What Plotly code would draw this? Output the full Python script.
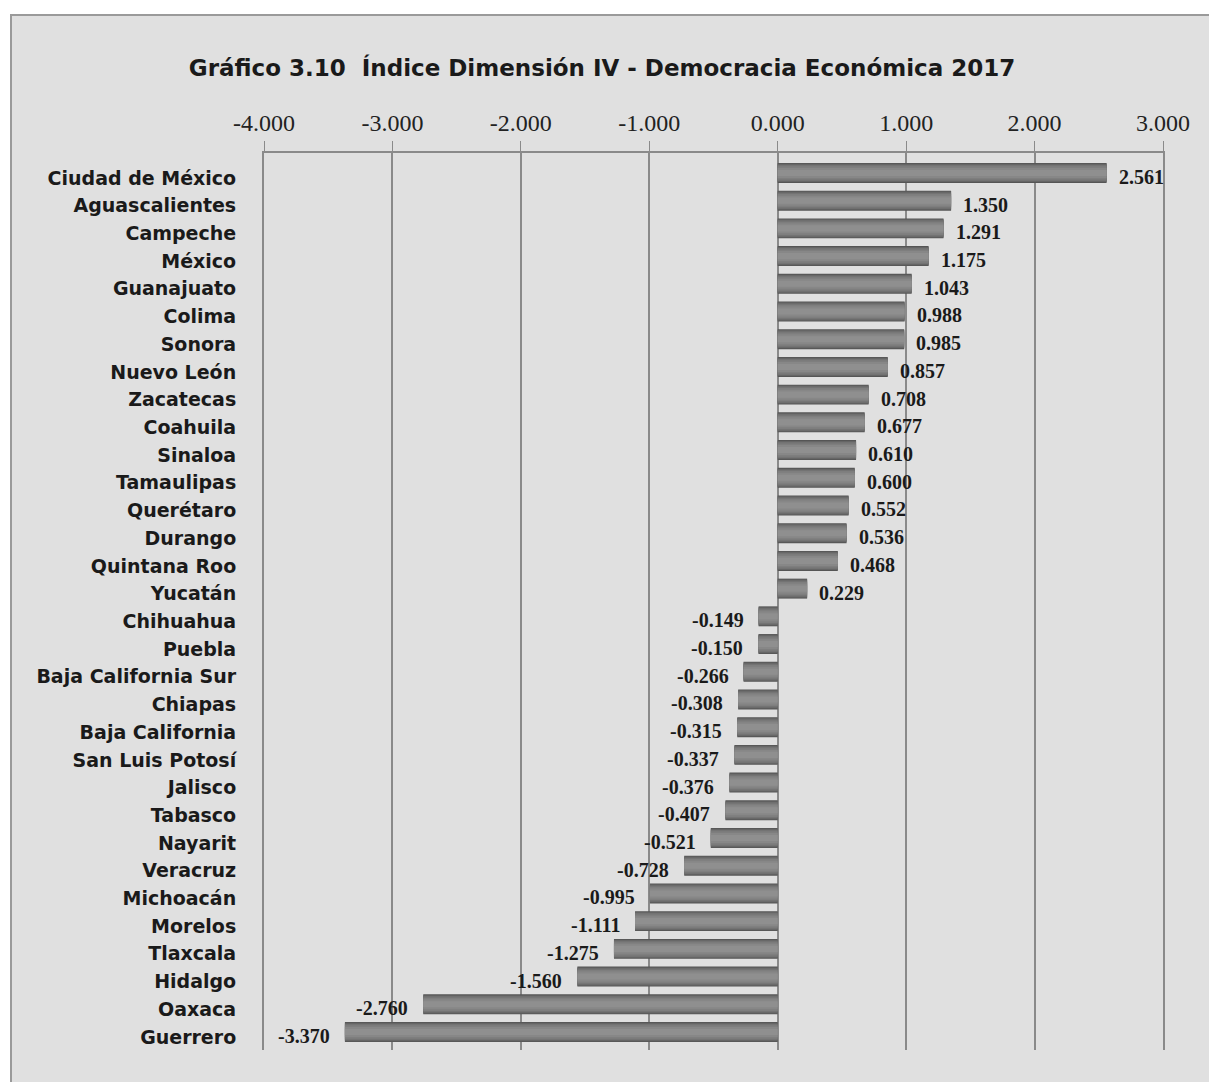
import plotly.graph_objects as go

states = ["Ciudad de México", "Aguascalientes", "Campeche", "México", "Guanajuato",
          "Colima", "Sonora", "Nuevo León", "Zacatecas", "Coahuila", "Sinaloa",
          "Tamaulipas", "Querétaro", "Durango", "Quintana Roo", "Yucatán",
          "Chihuahua", "Puebla", "Baja California Sur", "Chiapas", "Baja California",
          "San Luis Potosí", "Jalisco", "Tabasco", "Nayarit", "Veracruz",
          "Michoacán", "Morelos", "Tlaxcala", "Hidalgo", "Oaxaca", "Guerrero"]
values = [2.561, 1.350, 1.291, 1.175, 1.043, 0.988, 0.985, 0.857, 0.708, 0.677,
          0.610, 0.600, 0.552, 0.536, 0.468, 0.229, -0.149, -0.150, -0.266, -0.308,
          -0.315, -0.337, -0.376, -0.407, -0.521, -0.728, -0.995, -1.111, -1.275,
          -1.560, -2.760, -3.370]
tick_vals = [-4, -3, -2, -1, 0, 1, 2, 3]
tick_text = ["-4.000", "-3.000", "-2.000", "-1.000", "0.000", "1.000", "2.000", "3.000"]

labels = [f"{v:.3f}" for v in values]

fig = go.Figure()
# cylinder-like shading with overlaid bars (shifted slightly up, as in the 3D original)
lift = 0.18
shades = [(0.72, "#555555"), (0.66, "#656565"), (0.58, "#737373"),
          (0.48, "#7e7e7e"), (0.36, "#878787"), (0.22, "#8f8f8f")]
for w, c in shades:
    fig.add_trace(go.Bar(y=states, x=values, orientation="h", width=w,
                         offset=-w / 2 - lift,
                         marker=dict(color=c, line=dict(width=0)),
                         hoverinfo="skip", showlegend=False))

annotations = []
for s, v, t in zip(states, values, labels):
    annotations.append(dict(
        x=v, y=s, xref="x", yref="y", text=f"<b>{t}</b>", showarrow=False,
        xanchor="left" if v >= 0 else "right",
        xshift=10 if v >= 0 else -13, yshift=1,
        font=dict(family="Liberation Serif", size=20, color="#1a1a1a")))

W, H = 1209, 1082
top_m, bot_m, left_m, right_m = 153, 32, 264, 46
plot_h = H - top_m - bot_m
plot_w = W - left_m - right_m

fig.update_layout(
    width=W, height=H,
    barmode="overlay",
    paper_bgcolor="white",
    plot_bgcolor="rgba(0,0,0,0)",
    margin=dict(l=left_m, r=right_m, t=top_m, b=bot_m),
    title=dict(text="<b>Gráfico 3.10  Índice Dimensión IV - Democracia Económica 2017</b>",
               x=602 / W, xanchor="center", xref="container", y=(H - 68) / H,
               yanchor="middle", yref="container",
               font=dict(family="DejaVu Sans", size=23, color="#1a1a1a")),
    xaxis=dict(range=[-4, 3], side="top", tickvals=tick_vals, ticktext=tick_text,
               showgrid=True, gridcolor="#8a8a8a", gridwidth=2,
               zeroline=True, zerolinecolor="#8a8a8a", zerolinewidth=2,
               showline=True, linecolor="#8a8a8a", linewidth=2,
               ticks="outside", ticklen=10, tickcolor="#8a8a8a",
               tickfont=dict(family="Liberation Serif", size=24, color="#222222"),
               fixedrange=True),
    yaxis=dict(range=[31.47, -0.9], showgrid=False,
               showline=True, mirror=True, linecolor="#8a8a8a", linewidth=2,
               ticks="outside", ticklen=22, tickcolor="rgba(0,0,0,0)",
               tickfont=dict(family="DejaVu Sans", size=19, color="#1a1a1a", weight="bold"),
               fixedrange=True),
    annotations=annotations,
    shapes=[dict(type="rect", xref="paper", yref="paper",
                 x0=(11 - left_m) / plot_w, x1=(W + 20 - left_m) / plot_w,
                 y0=-(bot_m + 20) / plot_h, y1=(plot_h + top_m - 15) / plot_h,
                 fillcolor="#e0e0e0",
                 line=dict(color="#9a9a9a", width=2), layer="below")],
)

fig.write_html("out.html",
               config={"displayModeBar": False},
               post_script="document.body.style.margin='0px';"
                           "document.documentElement.style.overflow='hidden';"
                           "document.body.style.overflow='hidden';")
